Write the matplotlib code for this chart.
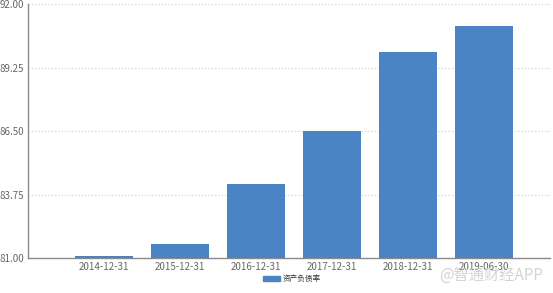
import matplotlib
matplotlib.use('Agg')
import matplotlib.pyplot as plt
from matplotlib.patches import Patch

plt.rcParams['font.family'] = ['Noto Sans CJK SC', 'DejaVu Sans']

# Data
dates = ['2014-12-31', '2015-12-31', '2016-12-31', '2017-12-31', '2018-12-31', '2019-06-30']
debt_ratio = [81.09, 81.61, 84.20, 86.52, 89.93, 91.06]
y_ticks = [81.00, 83.75, 86.50, 89.25, 92.00]
series_name = '资产负债率'

bar_color = '#4a84c4'
axis_color = '#8a8a8a'
text_color = '#666666'

fig = plt.figure(figsize=(5.53, 2.93), dpi=100)
ax = fig.add_axes([28 / 553, 1 - 258 / 293, (550 - 28) / 553, (258 - 4) / 293])

x = list(range(len(dates)))
ax.bar(x, [v - y_ticks[0] for v in debt_ratio], bottom=y_ticks[0], width=0.76,
       color=bar_color, zorder=3)

ax.set_xlim(-1, 5.87)
ax.set_ylim(y_ticks[0], y_ticks[-1])
ax.set_yticks(y_ticks)
ax.set_yticklabels([f'{t:.2f}' for t in y_ticks])
ax.set_xticks(x)
ax.set_xticklabels(dates)
ax.tick_params(axis='both', length=0, labelsize=7, colors=text_color, pad=3)

# dotted grid
for t in y_ticks[1:]:
    ax.axhline(t, color='#cccccc', linestyle=(0, (1, 2)), linewidth=0.8, zorder=1)

for side in ['top', 'right']:
    ax.spines[side].set_visible(False)
for side in ['left', 'bottom']:
    ax.spines[side].set_color(axis_color)
    ax.spines[side].set_linewidth(1.0)

# legend below the axis
fig.legend(handles=[Patch(color=bar_color, label=series_name)],
           loc='center', bbox_to_anchor=(292 / 553, 1 - 279 / 293),
           frameon=False, fontsize=5.5, handlelength=2.2, handleheight=0.6,
           handletextpad=0.3, labelcolor='#333333')

# watermark
fig.text(543 / 553, 1 - 275.5 / 293, '@智通财经APP', ha='right', va='center',
         fontsize=11, color='#d4d4d4')

fig.savefig('out.png', dpi=100)
